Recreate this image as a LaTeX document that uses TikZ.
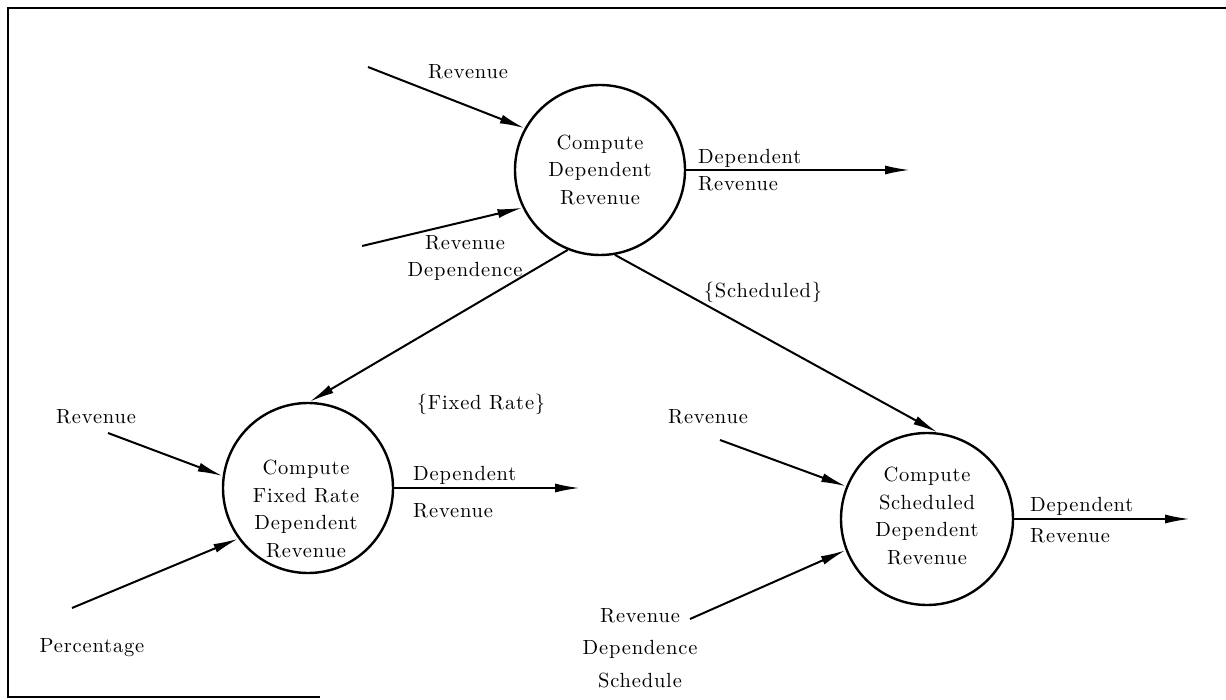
\documentclass[tikz,border=0pt]{standalone}
\usepackage{fontspec}
\setmainfont{lmroman10-regular.otf}[LetterSpace=4]
\usetikzlibrary{arrows.meta}
\newcommand{\dfdfont}{\fontsize{20.5}{27.5}\selectfont}
\begin{document}
\begin{tikzpicture}[x=1pt,y=-1pt,
  proc/.style={circle,draw,line width=2.4pt,minimum size=170pt,inner sep=0pt,align=center,
    font=\dfdfont},
  ptext/.style={inner sep=0pt,align=center,font=\dfdfont},
  lbl/.style={inner sep=0pt,font=\dfdfont},
  flow/.style={line width=2pt,-{Latex[length=25pt,width=9pt]}},
  frame/.style={line width=2.8pt},
]
\useasboundingbox (0,0) rectangle (1226,700);
% frame
\coordinate (fbl) at (320,697);
\coordinate (fbl0) at (8,697);
\coordinate (ftl) at (8,8);
\coordinate (ftr) at (1226,8);
\draw[frame] (fbl) -- (fbl0) -- (ftl) -- (ftr);

% processes
\node[proc] (c1) at (600,170) {Compute\\Dependent\\Revenue};
\node[proc] (c2) at (308,488) {};
\node[ptext] (c2t) at (306,509) {Compute\\Fixed Rate\\Dependent\\Revenue};
\node[proc,minimum size=172pt] (c3) at (927,519) {};
\node[ptext] (c3t) at (927,516) {Compute\\Scheduled\\Dependent\\Revenue};

% labels
\node[lbl] (l1) at (468,72) {Revenue};
\node[lbl,align=center] (l2) at (465,258) {Revenue\\Dependence};
\node[lbl,align=left,anchor=west] (l3) at (698,170) {Dependent\\Revenue};
\node[lbl] (l4) at (763,292) {\{Scheduled\}};
\node[lbl] (l5) at (481,404) {\{Fixed Rate\}};
\node[lbl] (l6) at (96,417) {Revenue};
\node[lbl] (l7) at (92,648) {Percentage};
\node[lbl,align=left,anchor=west] (l8) at (413,492) {Dependent\\[9pt]Revenue};
\node[lbl] (l9) at (708,417) {Revenue};
\node[lbl,align=center] (l10) at (640,648) {Revenue\\[5pt]Dependence\\[5pt]Schedule};
\node[lbl,align=left,anchor=west] (l11) at (1030,520) {Dependent\\[4pt]Revenue};

% free ends
\coordinate (a1) at (368,67);
\coordinate (a2) at (362,246);
\coordinate (o1) at (910,170);
\coordinate (a3) at (108,433);
\coordinate (a4) at (72,608);
\coordinate (o2) at (580,488);
\coordinate (a5) at (720,440);
\coordinate (a6) at (690,619);
\coordinate (o3) at (1190,519);

% flows
\draw[flow] (a1) -- (c1.151);
\draw[flow] (a2) -- (c1.206);
\draw[flow] (c1.east) -- (o1);
\draw[flow] (c1.248) -- (c2.89);
\draw[flow] (c1.280) -- (c3.83);
\draw[flow] (a3) -- (c2.172);
\draw[flow] (a4) -- (c2.216);
\draw[flow] (c2.east) -- (o2);
\draw[flow] (a5) -- (c3.158);
\draw[flow] (a6) -- (c3.201);
\draw[flow] (c3.east) -- (o3);
\end{tikzpicture}
\end{document}
